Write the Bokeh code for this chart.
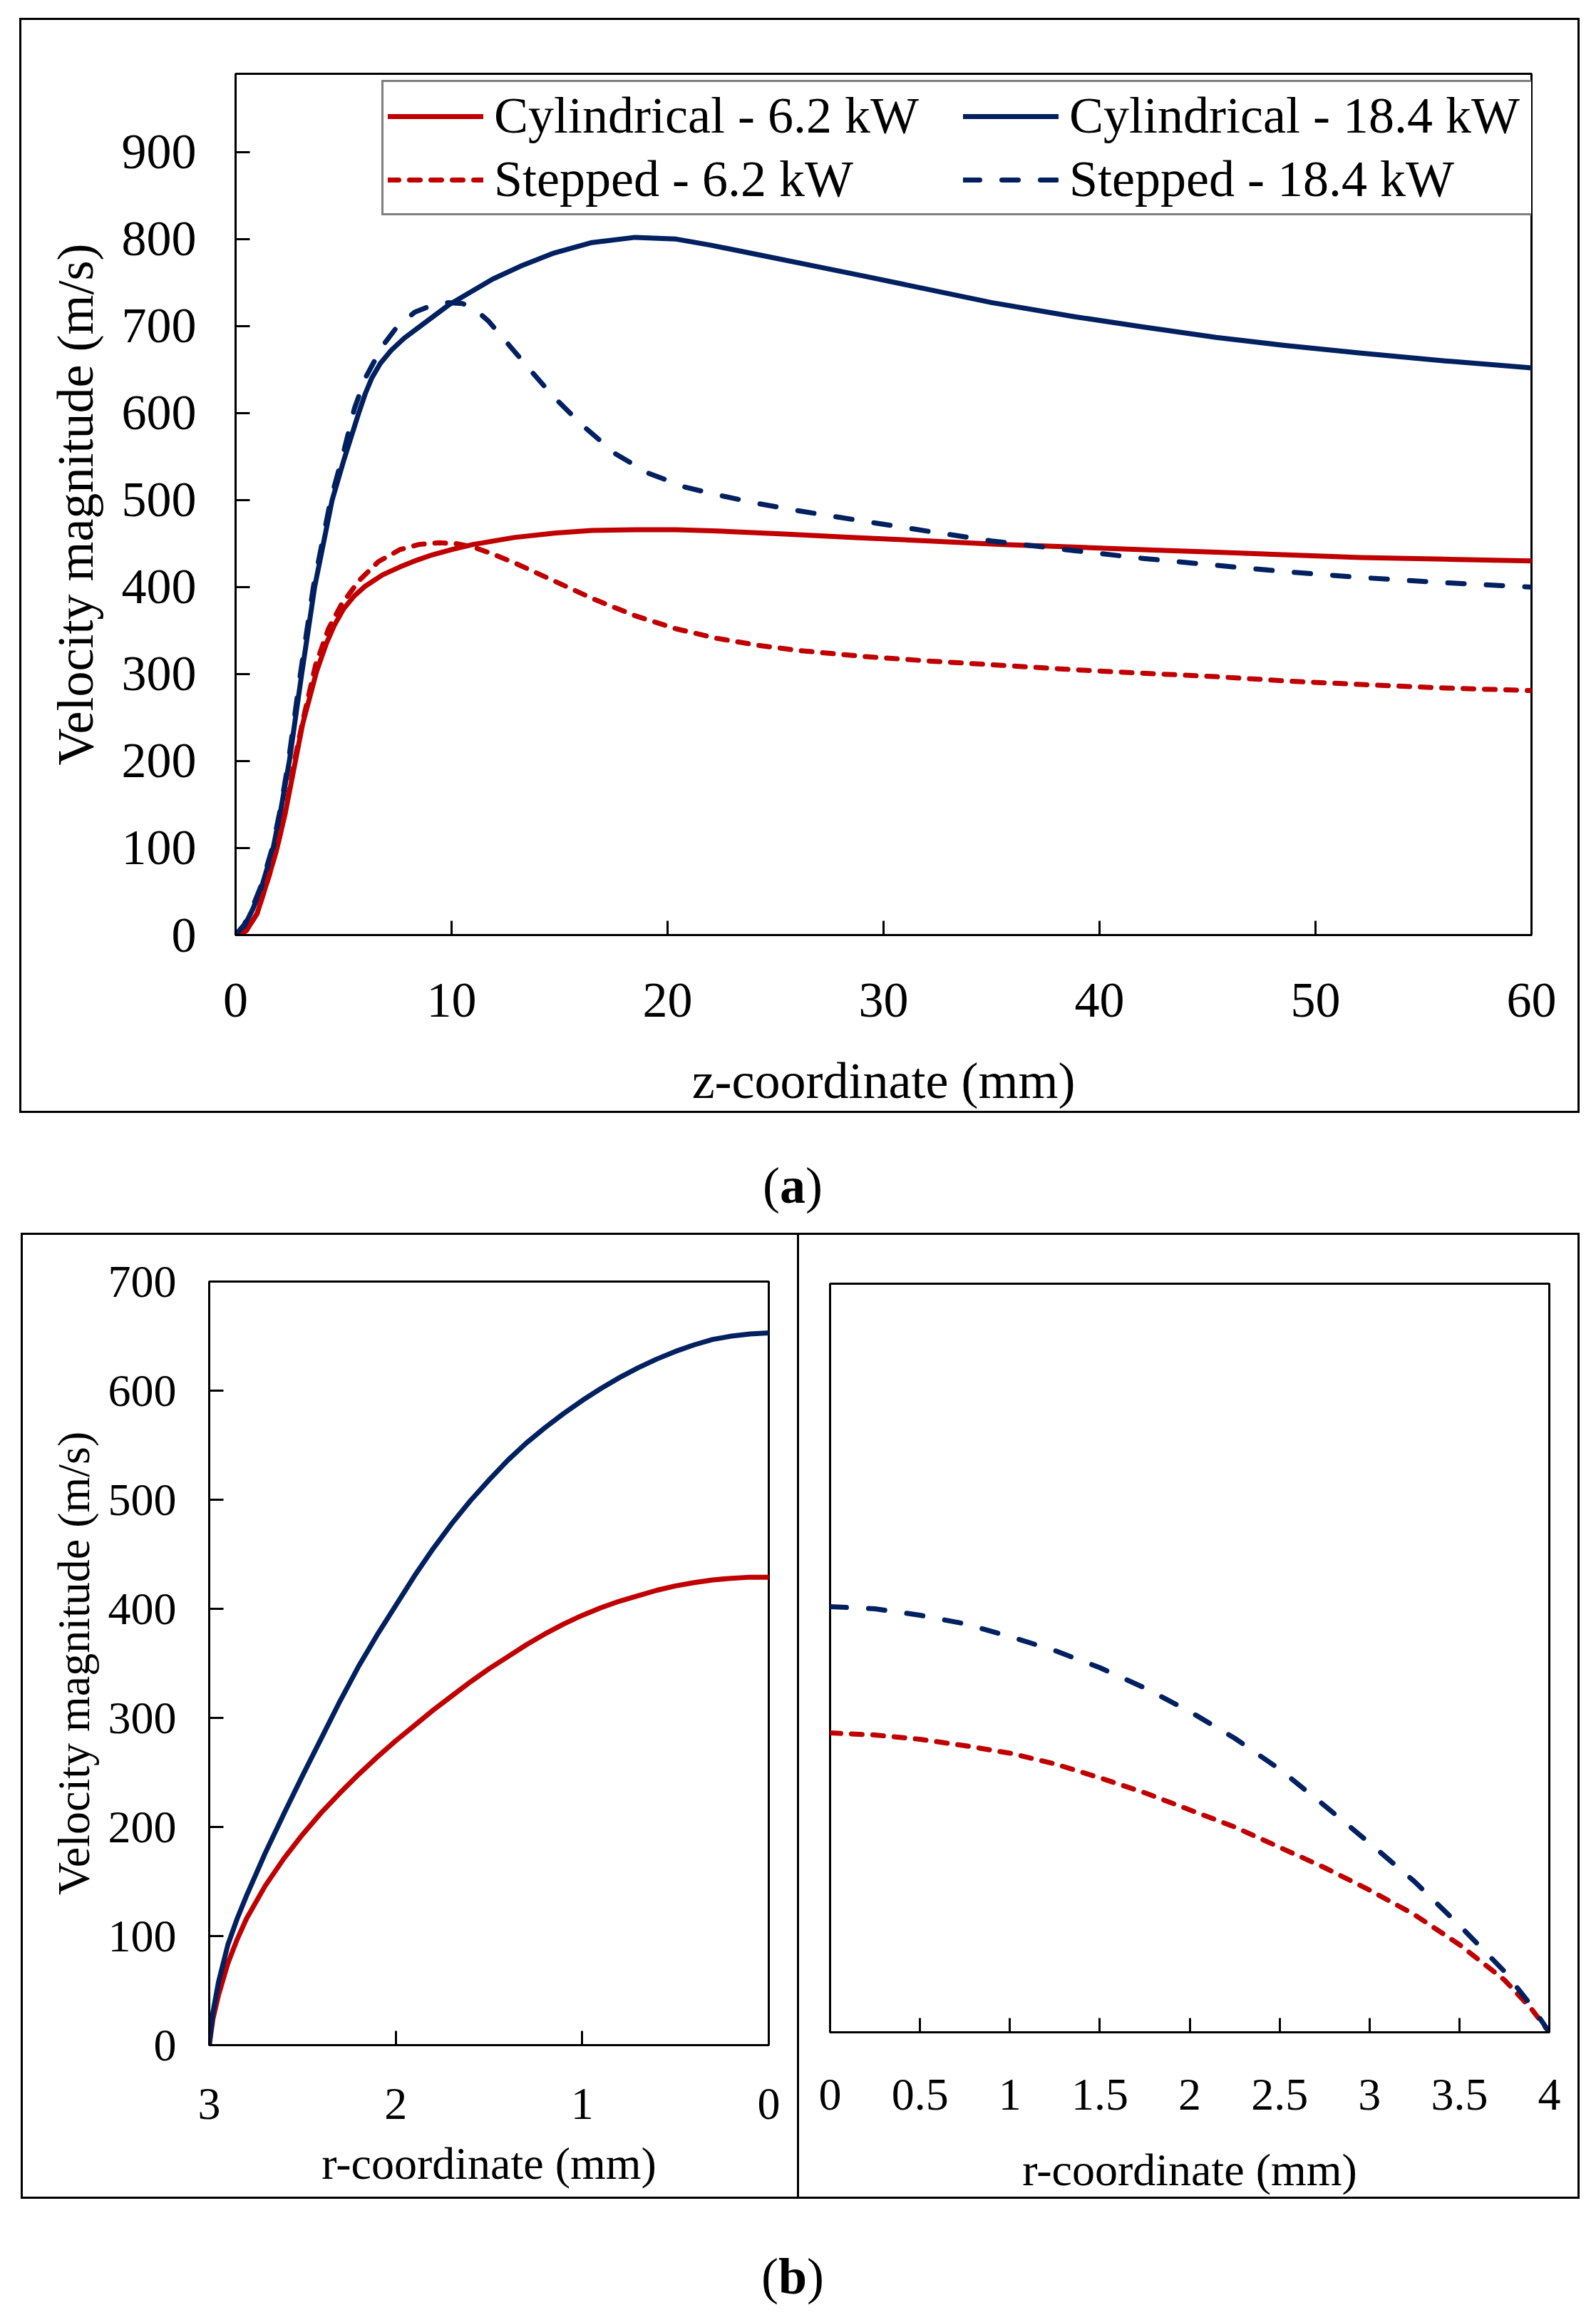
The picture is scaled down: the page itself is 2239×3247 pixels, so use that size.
from bokeh.plotting import figure
from bokeh.models import Range1d, FixedTicker, Legend, LegendItem, Div, NumeralTickFormatter, Spacer
from bokeh.layouts import column, row
from bokeh.embed import file_html
from bokeh.resources import INLINE

RED = "#C00000"
NAVY = "#002060"
FONT = "Liberation Serif"

# ---------------- panel (a): velocity along the axis ----------------
z_cyl_62 = [0, 0.5, 1.0, 1.55, 1.92, 2.3, 2.77, 3.1, 3.75, 4.2, 4.57, 5.0, 5.5, 6.0, 6.8, 7.6,
            8.4, 9.1, 10, 11, 12.9, 14.75, 16.5, 18.5, 20.4, 22.3, 25.4, 28.5, 32.1, 35.5,
            38.8, 42, 45.4, 48.7, 52.1, 56, 60]
v_cyl_62 = [0, 5, 25, 68, 100, 140, 200, 242, 303, 335, 356, 375, 390, 401, 414, 423,
            431, 437, 443, 449, 457, 462, 465, 466, 466, 464.5, 461, 457, 453, 449,
            446, 443, 440, 437, 434, 432, 430]

z_cyl_184 = [0, 0.4, 0.8, 1.2, 1.74, 2.1, 2.49, 3.06, 3.66, 4.47, 5.0, 5.7, 6.0, 6.3, 6.7,
             7.2, 7.8, 8.5, 9.85, 11.9, 13.3, 14.75, 16.5, 18.5, 20.4, 22, 24.2, 27, 29.2,
             32.1, 35, 38.8, 42, 45.4, 48.5, 52.1, 56, 60]
v_cyl_184 = [0, 10, 30, 55, 100, 145, 200, 300, 400, 500, 545, 600, 622, 640, 657,
             672, 686, 699, 724, 754, 770, 784, 796, 802, 800, 793, 782, 768, 757,
             742, 727, 711, 699, 687, 678, 669, 660, 652]

z_stp_62 = [0, 0.5, 1.0, 1.55, 1.92, 2.3, 2.75, 3.1, 3.7, 4.3, 4.9, 5.7, 6.6, 7.6, 8.5, 9.4,
            10.2, 11.0, 11.8, 12.9, 14.75, 16.6, 18.5, 20.4, 22.3, 24.2, 26.1, 29.2, 32.1,
            35.5, 38.8, 42, 45.4, 48.7, 52.1, 56, 60]
v_stp_62 = [0, 5, 25, 68, 100, 142, 203, 245, 310, 352, 380, 407, 429, 443, 449, 451,
            450, 446, 439, 428, 407, 386, 367, 352, 341, 333, 327, 320, 315,
            310, 305, 301, 297, 292, 288, 284, 281]

z_stp_184 = [0, 0.4, 0.8, 1.2, 1.7, 2.1, 2.45, 3.0, 3.6, 4.4, 5.0, 5.5, 6.0, 6.8, 7.5, 8.3,
             9.1, 9.85, 10.5, 11, 11.7, 12.7, 13.8, 14.75, 16.1, 17.6, 19.1, 20.8, 22.3,
             24.2, 26, 28, 32.1, 35, 38.8, 42, 45.4, 48.5, 52.1, 56, 60]
v_stp_184 = [0, 12, 33, 58, 100, 148, 200, 300, 400, 500, 555, 605, 640, 677, 700, 716,
             724, 727, 726, 721, 706, 677, 645, 618, 585, 553, 531, 515, 506,
             496, 488, 480, 464, 453, 442, 433, 425, 418, 411, 405, 400]

z_ticks = [0, 10, 20, 30, 40, 50, 60]
va_ticks = [0, 100, 200, 300, 400, 500, 600, 700, 800, 900]

# ---------------- panel (b): radial profiles ----------------
r_cyl = [3, 2.98, 2.95, 2.9, 2.85, 2.8, 2.7, 2.6, 2.5, 2.4, 2.3, 2.2, 2.1, 2.0, 1.9, 1.8,
         1.7, 1.6, 1.5, 1.4, 1.3, 1.2, 1.1, 1.0, 0.9, 0.8, 0.7, 0.6, 0.5, 0.4, 0.3, 0.2,
         0.1, 0]
vr_cyl_184 = [0, 30, 58, 92, 116, 137, 176, 212, 247, 281, 315, 347, 376, 403, 430, 455,
              478, 499, 518, 536, 552, 566, 579, 591, 602, 612, 621, 629, 636, 642, 647,
              650, 652, 653]
vr_cyl_62 = [0, 24, 46, 75, 97, 116, 146, 171, 193, 213, 231, 248, 264, 279, 293, 307,
             320, 333, 345, 356, 367, 377, 386, 394, 401, 407, 412, 417, 421, 424, 426.5,
             428, 429, 429]

r_stp = [0, 0.25, 0.5, 0.75, 1.0, 1.25, 1.5, 1.75, 2.0, 2.25, 2.5, 2.75, 3.0, 3.25, 3.5,
         3.75, 3.9, 4.0]
vr_stp_184 = [398, 396, 390, 382, 370, 357, 341, 322, 300, 275, 246, 212, 177, 141, 100,
              57, 25, 0]
vr_stp_62 = [280, 278, 274, 268, 261, 251, 238, 224, 208, 192, 173, 154, 133, 110, 82,
             49, 22, 0]

r_cyl_ticks = [3, 2, 1, 0]
r_stp_ticks = [0, 0.5, 1, 1.5, 2, 2.5, 3, 3.5, 4]
vb_ticks = [0, 100, 200, 300, 400, 500, 600, 700]


def style_axis(ax, ticks, font_px, label_standoff, title_standoff):
    ax.ticker = FixedTicker(ticks=ticks)
    ax.axis_line_color = "black"
    ax.axis_line_width = 3
    ax.major_tick_line_color = "black"
    ax.major_tick_line_width = 3
    ax.major_tick_in = 20
    ax.major_tick_out = 0
    ax.minor_tick_line_color = None
    ax.major_label_text_font = FONT
    ax.major_label_text_font_size = f"{font_px}px"
    ax.major_label_text_color = "black"
    ax.major_label_standoff = label_standoff
    ax.axis_label_text_font = FONT
    ax.axis_label_text_font_style = "normal"
    ax.axis_label_text_color = "black"
    ax.axis_label_standoff = title_standoff


def base(width, height, xr, yr, left, right, top, bottom):
    p = figure(width=width, height=height, x_range=xr, y_range=yr,
               output_backend="svg", toolbar_location=None,
               min_border_left=left, min_border_right=right,
               min_border_top=top, min_border_bottom=bottom, margin=0)
    p.grid.visible = False
    p.outline_line_color = "black"
    p.outline_line_width = 3
    p.background_fill_color = "white"
    p.border_fill_color = "white"
    return p


def hline(w):
    return Div(text="", width=w, height=3, margin=0, styles={"background-color": "black"})


def vline(h):
    return Div(text="", width=3, height=h, margin=0, styles={"background-color": "black"})


def gap(w, h):
    return Spacer(width=w, height=h, margin=0)


def caption(letter, width, height, pad):
    html = (f'<div style="padding-top:{pad}px; line-height:90px; text-align:center; '
            f'width:{width}px; font-family:\'{FONT}\'; font-size:72px; color:black;">'
            f'(<b>{letter}</b>)</div>')
    return Div(text=html, width=width, height=height, margin=0)


RED_DASH = "15 15"
NAVY_DASH = "23 31"
LW = 7

# ---------- top figure ----------
W_A, H_A = 2183, 1530
pa = base(W_A, H_A, Range1d(0, 60), Range1d(0, 990), 300, 65, 75, 246)
style_axis(pa.xaxis[0], z_ticks, 70, 68, 47)
style_axis(pa.yaxis[0], va_ticks, 70, 55, 22)
pa.xaxis[0].axis_label = "z-coordinate (mm)"
pa.yaxis[0].axis_label = "Velocity magnitude (m/s)"
pa.xaxis[0].axis_label_text_font_size = "72px"
pa.yaxis[0].axis_label_text_font_size = "72px"

ra1 = pa.line(z_cyl_62, v_cyl_62, line_color=RED, line_width=LW, line_cap="round",
              line_join="round")
ra2 = pa.line(z_cyl_184, v_cyl_184, line_color=NAVY, line_width=LW, line_cap="round",
              line_join="round")
ra3 = pa.line(z_stp_62, v_stp_62, line_color=RED, line_width=LW, line_dash=RED_DASH,
              line_cap="round", line_join="round")
ra4 = pa.line(z_stp_184, v_stp_184, line_color=NAVY, line_width=LW, line_dash=NAVY_DASH,
              line_cap="round", line_join="round")

legend = Legend(items=[
    LegendItem(label="Cylindrical - 6.2 kW", renderers=[ra1]),
    LegendItem(label="Cylindrical - 18.4 kW", renderers=[ra2]),
    LegendItem(label="Stepped - 6.2 kW", renderers=[ra3]),
    LegendItem(label="Stepped - 18.4 kW", renderers=[ra4]),
], location=(205, 1009), orientation="horizontal", ncols=2)
legend.label_text_font = FONT
legend.label_text_font_size = "72px"
legend.label_text_color = "black"
legend.label_height = 80
legend.glyph_height = 80
legend.glyph_width = 134
legend.label_standoff = 15
legend.label_width = 652
legend.spacing = 6
legend.padding = 6
legend.margin = 0
legend.border_line_color = "black"
legend.border_line_width = 3
legend.background_fill_color = "white"
legend.background_fill_alpha = 1
pa.add_layout(legend, "center")

panel_a = row(vline(H_A + 6),
              column(hline(W_A), pa, hline(W_A), spacing=0, margin=0),
              vline(H_A + 6), spacing=0, margin=0)

# ---------- bottom left ----------
W_B1, W_B2, H_B = 1086, 1092, 1349
pb1 = base(W_B1, H_B, Range1d(3, 0), Range1d(0, 700), 261, 40, 65, 213)
style_axis(pb1.xaxis[0], r_cyl_ticks, 64, 61, 24)
style_axis(pb1.yaxis[0], vb_ticks, 64, 46, 10)
pb1.xaxis[0].axis_label = "r-coordinate (mm)"
pb1.yaxis[0].axis_label = "Velocity magnitude (m/s)"
pb1.xaxis[0].axis_label_text_font_size = "64px"
pb1.yaxis[0].axis_label_text_font_size = "64px"
pb1.line(r_cyl, vr_cyl_62, line_color=RED, line_width=LW, line_cap="round", line_join="round")
pb1.line(r_cyl, vr_cyl_184, line_color=NAVY, line_width=LW, line_cap="round",
         line_join="round")

# ---------- bottom right ----------
pb2 = base(W_B2, H_B, Range1d(0, 4), Range1d(0, 700), 43, 40, 68, 219)
style_axis(pb2.xaxis[0], r_stp_ticks, 64, 66, 46)
pb2.xaxis[0].formatter = NumeralTickFormatter(format="0.[0]")
pb2.xaxis[0].axis_label = "r-coordinate (mm)"
pb2.xaxis[0].axis_label_text_font_size = "64px"
pb2.yaxis.visible = False
pb2.line(r_stp, vr_stp_62, line_color=RED, line_width=LW, line_dash=RED_DASH,
         line_cap="round", line_join="round")
pb2.line(r_stp, vr_stp_184, line_color=NAVY, line_width=LW, line_dash=NAVY_DASH,
         line_cap="round", line_join="round")

panel_b = row(vline(H_B + 6),
              column(hline(W_B1), pb1, hline(W_B1), spacing=0, margin=0),
              vline(H_B + 6),
              column(hline(W_B2), pb2, hline(W_B2), spacing=0, margin=0),
              vline(H_B + 6), spacing=0, margin=0)

layout = column(
    gap(2216, 25),
    row(gap(27, H_A + 6), panel_a, spacing=0, margin=0),
    caption("a", 2224, 168, 57),
    row(gap(29, H_B + 6), panel_b, spacing=0, margin=0),
    caption("b", 2224, 155, 64),
    spacing=0, margin=0,
)

open("out.html", "w").write(file_html(layout, INLINE))
